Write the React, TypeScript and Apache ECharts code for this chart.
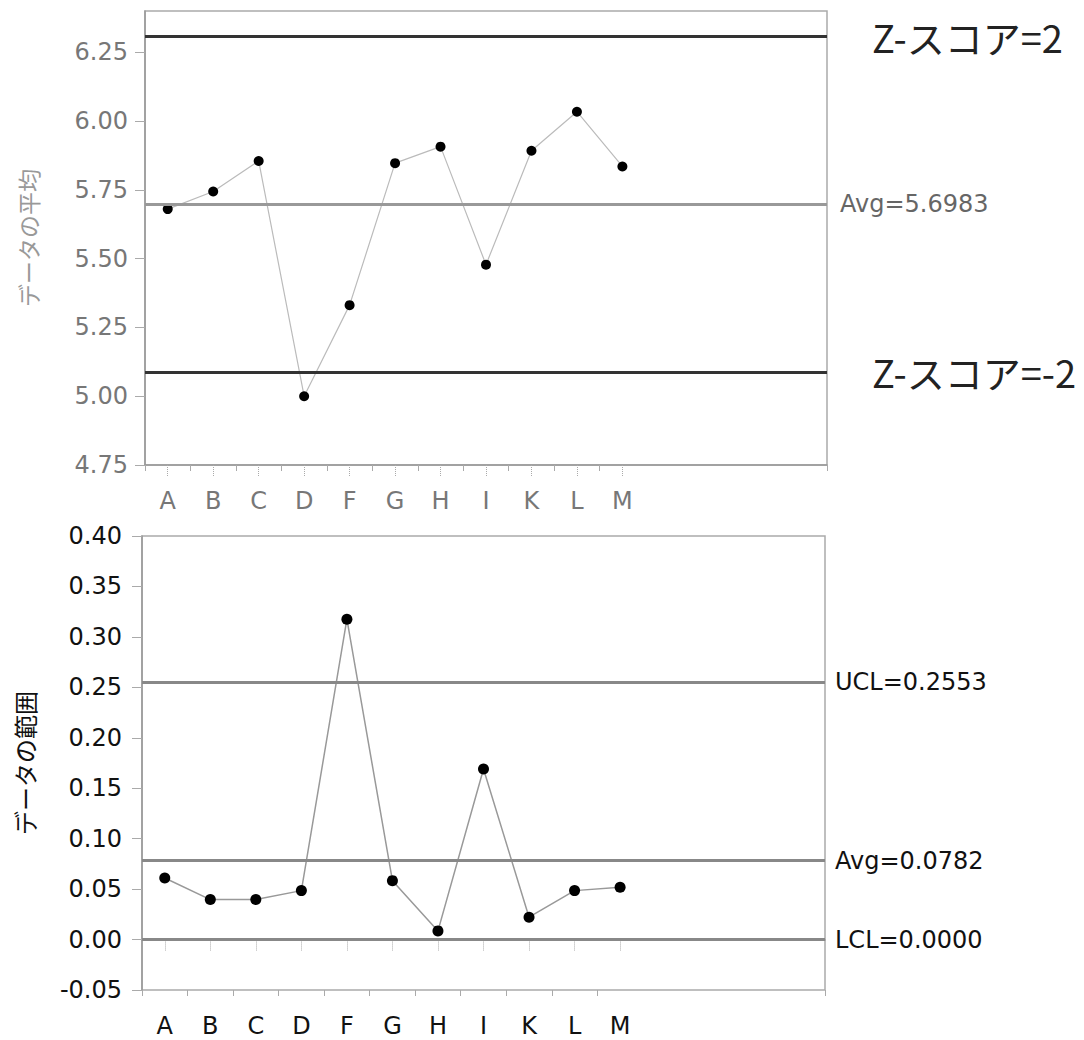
import React, { useEffect, useRef } from "react";
import * as echarts from "echarts";

// ---- data ----
const categories = ["A", "B", "C", "D", "F", "G", "H", "I", "K", "L", "M"];
const padCategories = [" ", "  ", "   ", "    "];
const meanValues = [5.68, 5.744, 5.855, 5.0, 5.331, 5.847, 5.907, 5.478, 5.892, 6.034, 5.835];
const rangeValues = [0.061, 0.0396, 0.0396, 0.0485, 0.3175, 0.0584, 0.0086, 0.169, 0.0222, 0.0485, 0.0519];
const meanAvg = 5.6983;
const zUpper = 6.3083;
const zLower = 5.0883;
const rangeUCL = 0.2553;
const rangeAvg = 0.0782;
const rangeLCL = 0.0;
const meanAxisMin = 4.75;
const meanAxisMax = 6.4;
const meanAxisStep = 0.25;
const meanTicks = [4.75, 5.0, 5.25, 5.5, 5.75, 6.0, 6.25];
const rangeAxisMin = -0.05;
const rangeAxisMax = 0.4;
const rangeAxisStep = 0.05;
const meanTitle = "データの平均";
const rangeTitle = "データの範囲";
const zUpperLabel = "Z-スコア=2";
const zLowerLabel = "Z-スコア=-2";

const LATIN = '"DejaVu Sans", "Noto Sans CJK JP", sans-serif';
const CJK = '"Noto Sans CJK JP", "DejaVu Sans", sans-serif';

export default function App() {
  const ref = useRef<HTMLDivElement>(null);

  useEffect(() => {
    if (!ref.current) return;
    const chart = echarts.init(ref.current, undefined, { renderer: "svg" });
    const xData = [...categories, ...padCategories];
    const isReal = (_i: number, v: string) => String(v).trim() !== "";

    const majorX = (gridIndex: number, color: string, fontSize: number) => ({
      type: "category",
      gridIndex,
      position: "bottom",
      data: xData,
      boundaryGap: true,
      axisLine: { show: true, lineStyle: { color: "#999", width: 1.5 } },
      axisTick: {
        show: true,
        alignWithLabel: true,
        interval: isReal,
        length: 12,
        lineStyle: { color: "#aaa", width: 1, type: "dotted" },
      },
      axisLabel: {
        interval: 0,
        margin: 24,
        color,
        fontSize,
        fontFamily: LATIN,
      },
      splitLine: { show: false },
    });
    const minorX = (gridIndex: number) => ({
      type: "category",
      gridIndex,
      position: "bottom",
      offset: 0,
      data: xData,
      boundaryGap: true,
      axisLine: { show: false },
      axisTick: {
        show: true,
        alignWithLabel: false,
        interval: (i: number) => i <= categories.length - 1,
        length: 6,
        lineStyle: { color: "#aaa", width: 1 },
      },
      axisLabel: { show: false },
      splitLine: { show: false },
    });

    const option: any = {
      animation: false,
      backgroundColor: "#ffffff",
      grid: [
        { left: 145, top: 11, width: 682, height: 454, show: true, borderColor: "#aaa", borderWidth: 1.5, containLabel: false },
        { left: 142, top: 536, width: 683, height: 454, show: true, borderColor: "#aaa", borderWidth: 1.5, containLabel: false },
      ],
      xAxis: [majorX(0, "#777", 24), minorX(0), majorX(1, "#111", 24), minorX(1)],
      yAxis: [
        {
          type: "value",
          gridIndex: 0,
          min: meanAxisMin,
          max: meanAxisMax,
          interval: meanAxisStep,
          name: meanTitle,
          nameLocation: "middle",
          nameRotate: 90,
          nameGap: 106,
          nameTextStyle: { color: "#999", fontSize: 23, fontFamily: CJK },
          axisLine: { show: true, lineStyle: { color: "#999", width: 1.5 } },
          axisTick: { show: true, length: 10, customValues: meanTicks, lineStyle: { color: "#aaa", width: 1 } },
          axisLabel: {
            color: "#777",
            fontSize: 24,
            fontFamily: LATIN,
            margin: 17,
            customValues: meanTicks,
            formatter: (v: number) => v.toFixed(2),
          },
          splitLine: { show: false },
        },
        {
          type: "value",
          gridIndex: 1,
          min: rangeAxisMin,
          max: rangeAxisMax,
          interval: rangeAxisStep,
          name: rangeTitle,
          nameLocation: "middle",
          nameRotate: 90,
          nameGap: 106,
          nameTextStyle: { color: "#111", fontSize: 24, fontFamily: CJK },
          axisLine: { show: true, lineStyle: { color: "#999", width: 1.5 } },
          axisTick: { show: true, length: 10, lineStyle: { color: "#aaa", width: 1 } },
          axisLabel: {
            color: "#111",
            fontSize: 24,
            fontFamily: LATIN,
            margin: 20,
            formatter: (v: number) => v.toFixed(2),
          },
          splitLine: { show: false },
        },
      ],
      series: [
        {
          type: "line",
          xAxisIndex: 0,
          yAxisIndex: 0,
          data: meanValues,
          symbol: "circle",
          symbolSize: 10,
          itemStyle: { color: "#000" },
          lineStyle: { color: "#bbb", width: 1.2 },
          markLine: {
            silent: true,
            symbol: "none",
            precision: 4,
            data: [
              {
                yAxis: zUpper,
                lineStyle: { color: "#333", width: 3, type: "solid" },
                label: { show: true, position: "end", distance: 45, formatter: zUpperLabel, fontSize: 38, color: "#222", fontFamily: CJK },
              },
              {
                yAxis: meanAvg,
                lineStyle: { color: "#999", width: 3, type: "solid" },
                label: { show: true, position: "end", distance: 13, formatter: "Avg=" + meanAvg.toFixed(4), fontSize: 24, color: "#666", fontFamily: LATIN },
              },
              {
                yAxis: zLower,
                lineStyle: { color: "#333", width: 3, type: "solid" },
                label: { show: true, position: "end", distance: 45, formatter: zLowerLabel, fontSize: 38, color: "#222", fontFamily: CJK },
              },
            ],
          },
        },
        {
          type: "line",
          xAxisIndex: 2,
          yAxisIndex: 1,
          data: rangeValues,
          symbol: "circle",
          symbolSize: 11,
          itemStyle: { color: "#000" },
          lineStyle: { color: "#999", width: 1.5 },
          markLine: {
            silent: true,
            symbol: "none",
            precision: 4,
            data: [
              {
                yAxis: rangeUCL,
                lineStyle: { color: "#888", width: 3, type: "solid" },
                label: { show: true, position: "end", distance: 10, formatter: "UCL=" + rangeUCL.toFixed(4), fontSize: 24, color: "#111", fontFamily: LATIN },
              },
              {
                yAxis: rangeAvg,
                lineStyle: { color: "#888", width: 3, type: "solid" },
                label: { show: true, position: "end", distance: 10, formatter: "Avg=" + rangeAvg.toFixed(4), fontSize: 24, color: "#111", fontFamily: LATIN },
              },
              {
                yAxis: rangeLCL,
                lineStyle: { color: "#888", width: 3, type: "solid" },
                label: { show: true, position: "end", distance: 10, formatter: "LCL=" + rangeLCL.toFixed(4), fontSize: 24, color: "#111", fontFamily: LATIN },
              },
            ],
          },
        },
      ],
    };
    chart.setOption(option);
    return () => chart.dispose();
  }, []);

  return (
    <div
      ref={ref}
      style={{ position: "fixed", left: 0, top: 0, width: 1084, height: 1040, background: "#fff" }}
    />
  );
}
